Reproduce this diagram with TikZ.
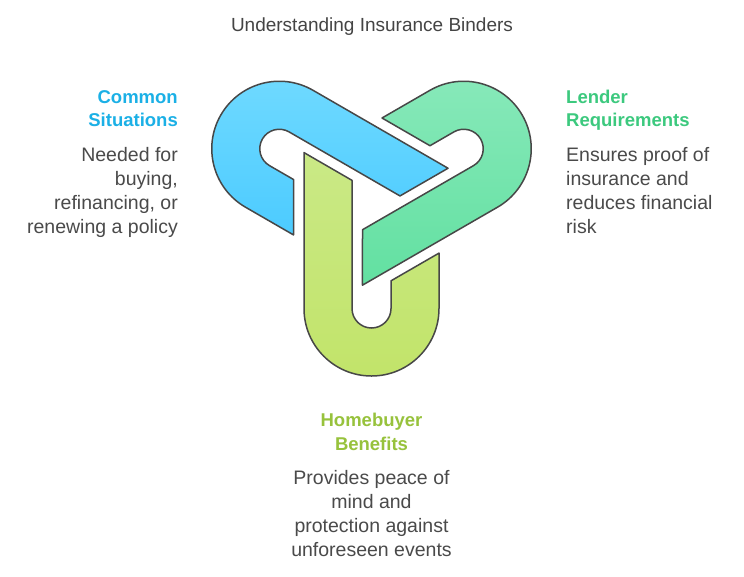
\documentclass[tikz,border=0pt]{standalone}
\usepackage{fontspec}
\setmainfont{Liberation Sans}
\definecolor{txt}{HTML}{4A4A4A}
\definecolor{ttl}{HTML}{444444}
\definecolor{edge}{HTML}{474747}
\definecolor{cblue}{HTML}{1BB0E6}
\definecolor{cgreen}{HTML}{3CC97E}
\definecolor{cyel}{HTML}{97C23C}
\definecolor{blt}{HTML}{70DAFF}
\definecolor{blb}{HTML}{4CCBFF}
\definecolor{grt}{HTML}{88E9BA}
\definecolor{grb}{HTML}{62E0A1}
\definecolor{ylt}{HTML}{CAE986}
\definecolor{ylb}{HTML}{C2E46A}
\tikzset{
  piece/.style={draw=edge, line width=1.5pt, line join=round},
  head/.style={font=\fontsize{18.5}{23.5}\selectfont\bfseries, inner sep=0pt},
  body/.style={font=\fontsize{19.5}{24}\selectfont, text=txt, inner sep=0pt}
}
\begin{document}
\begin{tikzpicture}[x=1pt,y=1pt]
\useasboundingbox (0,0) rectangle (744,-576);
\fill[white] (0,0) rectangle (744,-576);
\coordinate (C) at (371.5,-202);
\begin{scope}[shift={(C)}]
  % yellow-green piece (bottom)
  \path[piece, top color=ylt, bottom color=ylb]
    (-67.5,49.4) -- (-67.5,-106.5) arc[start angle=180,end angle=360,radius=67.5]
    -- (67.5,-51.1) -- (19.5,-78.8) -- (19.5,-106.5)
    arc[start angle=0,end angle=-180,radius=19.5] -- (-19.5,21.65) -- cycle;
  % blue piece (upper left)
  \path[piece, top color=blt, bottom color=blb]
    (76.53,33.76) -- (-58.48,111.71) arc[start angle=60,end angle=240,radius=67.5]
    -- (-78.0,-32.91) -- (-77.99,22.51) -- (-101.98,36.36)
    arc[start angle=-120,end angle=-300,radius=19.5] -- (28.5,6.06) -- cycle;
  % green piece (upper right)
  \path[piece, top color=grt, bottom color=grb]
    (-9.03,-83.16) -- (125.98,-5.21) arc[start angle=300,end angle=480,radius=67.5]
    -- (10.5,84.01) -- (58.49,56.29) -- (82.48,70.14)
    arc[start angle=120,end angle=-60,radius=19.5] -- (-9.0,-27.72) -- cycle;
\end{scope}
\node[font=\fontsize{19}{23}\selectfont, text=ttl, inner sep=0pt, anchor=base] (title) at (372,-31.7) {Understanding Insurance Binders};
\node[head, text=cblue, align=right, anchor=base east] (h1) at (178,-126.7) {Common\\Situations};
\node[body, align=right, anchor=base east] (b1) at (178,-233.5) {Needed for\\buying,\\refinancing, or\\renewing a policy};
\node[head, text=cgreen, align=left, anchor=base west] (h2) at (566,-126.7) {Lender\\Requirements};
\node[body, align=left, anchor=base west] (b2) at (566,-233.5) {Ensures proof of\\insurance and\\reduces financial\\risk};
\node[head, text=cyel, align=center, anchor=base] (h3) at (371.5,-450) {Homebuyer\\Benefits};
\node[body, align=center, anchor=base] (b3) at (371.5,-556.5) {Provides peace of\\mind and\\protection against\\unforeseen events};
\end{tikzpicture}
\end{document}
